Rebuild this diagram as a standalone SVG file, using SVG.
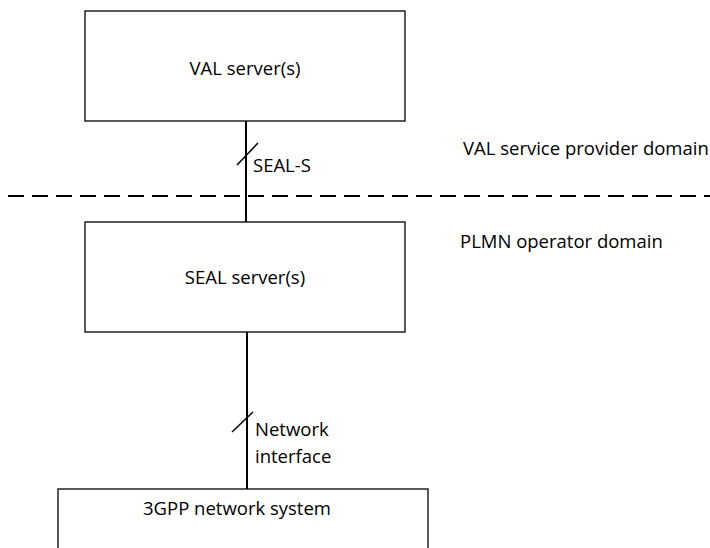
<svg xmlns="http://www.w3.org/2000/svg" width="710" height="548" viewBox="0 0 710 548">
<style>
.box{fill:#fff;stroke:#000;stroke-width:1.3}
.t{font-family:"Open Sans","Liberation Sans",sans-serif;font-size:18.5px;fill:#000}
.c{text-anchor:middle}
.ln{stroke:#000;stroke-width:2;fill:none}
.sl{stroke:#000;stroke-width:1.5;fill:none}
</style>
<rect width="710" height="548" fill="#fff"/>
<g id="connectors">
<line class="ln" x1="246" y1="121" x2="246" y2="222"/>
<line class="sl" x1="237" y1="165" x2="258" y2="143"/>
<text class="t" x="253" y="172">SEAL-S</text>
<line class="ln" x1="247" y1="332" x2="247" y2="489"/>
<line class="sl" x1="232" y1="432" x2="253" y2="412"/>
<text class="t" x="255" y="436">Network</text>
<text class="t" x="255" y="463">interface</text>
</g>
<g id="domain-boundary">
<line x1="8" y1="196" x2="710" y2="196" stroke="#000" stroke-width="2" stroke-dasharray="16 8"/>
<text class="t" x="463" y="155">VAL service provider domain</text>
<text class="t" x="460" y="248">PLMN operator domain</text>
</g>
<g id="val-server">
<rect class="box" x="85" y="11" width="320" height="110"/>
<text class="t c" x="245" y="75">VAL server(s)</text>
</g>
<g id="seal-server">
<rect class="box" x="85" y="222" width="320" height="110"/>
<text class="t c" x="245" y="284">SEAL server(s)</text>
</g>
<g id="network-system">
<rect class="box" x="58" y="489" width="370" height="80"/>
<text class="t c" x="237" y="515">3GPP network system</text>
</g>
</svg>
